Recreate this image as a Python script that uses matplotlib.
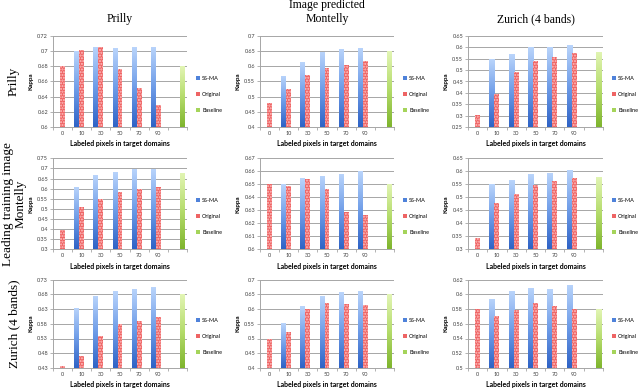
import numpy as np
import matplotlib
matplotlib.use("Agg")
import matplotlib.pyplot as plt
from matplotlib.patches import Patch
from matplotlib.colors import LinearSegmentedColormap

# ---------------- data ----------------
categories = ['0', '10', '30', '50', '70', '90', '']
series_names = ['SS-MA', 'Original', 'Baseline']
col_titles = ['Prilly', 'Image predicted\nMontelly', 'Zurich (4 bands)']
row_titles = ['Prilly', 'Leading training image\nMontelly', 'Zurich (4 bands)']
xlabel_text = 'Labeled pixels in target domains'
ylabel_text = 'Kappa'

# row 1: leading training image Prilly
ssma_p_p = [np.nan, 0.700, 0.706, 0.704, 0.705, 0.706]
orig_p_p = [0.680, 0.702, 0.705, 0.676, 0.651, 0.629]
base_p_p = 0.680
ssma_p_m = [np.nan, 0.569, 0.614, 0.648, 0.658, 0.661]
orig_p_m = [0.480, 0.526, 0.573, 0.593, 0.606, 0.617]
base_p_m = 0.650
ssma_p_z = [np.nan, 0.548, 0.570, 0.600, 0.600, 0.610]
orig_p_z = [0.303, 0.393, 0.492, 0.542, 0.557, 0.575]
base_p_z = 0.580
# row 2: leading training image Montelly
ssma_m_p = [np.nan, 0.607, 0.668, 0.681, 0.698, 0.698]
orig_m_p = [0.396, 0.511, 0.549, 0.582, 0.598, 0.607]
base_m_p = 0.679
ssma_m_m = [np.nan, 0.650, 0.6546, 0.6567, 0.6582, 0.660]
orig_m_m = [0.6505, 0.649, 0.654, 0.646, 0.629, 0.626]
base_m_m = 0.6505
ssma_m_z = [np.nan, 0.550, 0.565, 0.588, 0.595, 0.604]
orig_m_z = [0.345, 0.478, 0.511, 0.546, 0.564, 0.574]
base_m_z = 0.580
# row 3: leading training image Zurich
ssma_z_p = [np.nan, 0.634, 0.675, 0.690, 0.698, 0.704]
orig_z_p = [0.438, 0.472, 0.537, 0.579, 0.591, 0.604]
base_z_p = 0.680
ssma_z_m = [np.nan, 0.552, 0.609, 0.643, 0.657, 0.661]
orig_z_m = [0.500, 0.523, 0.600, 0.620, 0.618, 0.615]
base_z_m = 0.650
ssma_z_z = [np.nan, 0.594, 0.604, 0.609, 0.607, 0.613]
orig_z_z = [0.580, 0.570, 0.579, 0.588, 0.584, 0.580]
base_z_z = 0.580

# y axis ranges (min, max, step)
yaxes = [[(0.60, 0.72, 0.02), (0.40, 0.70, 0.05), (0.25, 0.65, 0.05)],
         [(0.30, 0.75, 0.05), (0.60, 0.67, 0.01), (0.30, 0.65, 0.05)],
         [(0.43, 0.73, 0.05), (0.40, 0.70, 0.05), (0.50, 0.62, 0.02)]]

panels = [[(ssma_p_p, orig_p_p, base_p_p), (ssma_p_m, orig_p_m, base_p_m), (ssma_p_z, orig_p_z, base_p_z)],
          [(ssma_m_p, orig_m_p, base_m_p), (ssma_m_m, orig_m_m, base_m_m), (ssma_m_z, orig_m_z, base_m_z)],
          [(ssma_z_p, orig_z_p, base_z_p), (ssma_z_m, orig_z_m, base_z_m), (ssma_z_z, orig_z_z, base_z_z)]]

# ---------------- style ----------------
W, H = 640, 391
fig = plt.figure(figsize=(W / 100, H / 100), dpi=100)
sans = ['Lato', 'DejaVu Sans']
serif = ['Liberation Serif', 'DejaVu Serif']

col_x = [(53, 187), (260, 394), (468, 603)]
row_y = [(36, 127), (158.3, 249.3), (279.5, 368)]

blue_cmap = LinearSegmentedColormap.from_list('b', ['#2f63c6', '#6f9de8', '#b9d4fb'])
green_cmap = LinearSegmentedColormap.from_list('g', ['#7fb52e', '#b5dc6c', '#e2f5b4'])
red_face = '#ee6464'
red_dots = '#ffc4c4'
grid_col = '#a6a6a6'
bw = 0.26


def grad_bars(ax, x, heights, ymin, cmap):
    rects = ax.bar(x, np.asarray(heights) - ymin, bottom=ymin, width=bw,
                   color='none', linewidth=0)
    grad = np.linspace(0, 1, 64).reshape(-1, 1)
    for r in rects:
        h = r.get_height()
        if not np.isfinite(h) or h <= 0:
            continue
        x0 = r.get_x()
        im = ax.imshow(grad, cmap=cmap, origin='lower', aspect='auto',
                       extent=(x0, x0 + r.get_width(), ymin, ymin + h),
                       zorder=2, interpolation='bilinear')
        im.set_clip_path(r)


for ri in range(3):
    for ci in range(3):
        x0, x1 = col_x[ci]
        y0, y1 = row_y[ri]
        ax = fig.add_axes([x0 / W, 1 - y1 / H, (x1 - x0) / W, (y1 - y0) / H])
        ssma, orig, base = panels[ri][ci]
        ymin, ymax, step = yaxes[ri][ci]
        idx = np.arange(len(ssma))
        grad_bars(ax, idx - bw, ssma, ymin, blue_cmap)
        ax.bar(idx, np.asarray(orig) - ymin, bottom=ymin, width=bw,
               facecolor=red_face, edgecolor=red_dots, hatch='......',
               linewidth=0, zorder=2)
        grad_bars(ax, [len(categories) - 1 + bw], [base], ymin, green_cmap)

        ax.set_xlim(-0.5, len(categories) - 0.5)
        ax.set_ylim(ymin, ymax)
        ticks = np.arange(ymin, ymax + step / 2, step)
        ax.set_yticks(ticks)
        ax.set_yticklabels([f"{t:.2f}".rstrip('0').rstrip('.') for t in ticks],
                           fontsize=4, family=sans, color='#404040')
        ax.set_xticks(np.arange(len(categories)))
        ax.set_xticklabels(categories, fontsize=4, family=sans, color='#404040')
        ax.set_xticks(np.arange(len(categories) + 1) - 0.5, minor=True)
        ax.tick_params(axis='x', which='major', length=0, pad=3)
        ax.tick_params(axis='x', which='minor', length=2, color=grid_col, width=0.6)
        ax.tick_params(axis='y', length=2, color=grid_col, width=0.6, pad=1.5)
        ax.grid(axis='y', color=grid_col, linewidth=0.7, zorder=0)
        ax.set_axisbelow(True)
        for s in ['top', 'right']:
            ax.spines[s].set_visible(False)
        for s in ['left', 'bottom']:
            ax.spines[s].set_color(grid_col)
            ax.spines[s].set_linewidth(0.7)
        ax.set_ylabel(ylabel_text, fontsize=4.5, family=sans, fontweight='bold',
                      labelpad=3)
        ax.set_xlabel(xlabel_text, fontsize=5, family=sans, fontweight='bold',
                      labelpad=3)
        handles = [Patch(facecolor='#4f82da'), Patch(facecolor=red_face),
                   Patch(facecolor='#a5d45a')]
        ax.legend(handles, series_names, loc='center left',
                  bbox_to_anchor=(1.03, 0.36), frameon=False, fontsize=4,
                  handlelength=0.7, handleheight=0.7, handletextpad=0.4,
                  labelspacing=2.0, prop={'family': sans, 'size': 4})

# column titles
for ci, t in enumerate(col_titles):
    cx = (col_x[ci][0] + col_x[ci][1]) / 2 / W
    if '\n' in t:
        fig.text(cx, 1 - 12 / H, t, ha='center', va='center', fontsize=8.5,
                 family=serif, linespacing=1.15)
    else:
        fig.text(cx, 1 - 19 / H, t, ha='center', va='center', fontsize=8.5,
                 family=serif)

# row titles
for ri, t in enumerate(row_titles):
    cy = 1 - (row_y[ri][0] + row_y[ri][1]) / 2 / H
    fig.text(14 / W, cy, t, ha='center', va='center', rotation=90,
             fontsize=9.5, family=serif, linespacing=1.1)

fig.savefig('out.png', dpi=100)
